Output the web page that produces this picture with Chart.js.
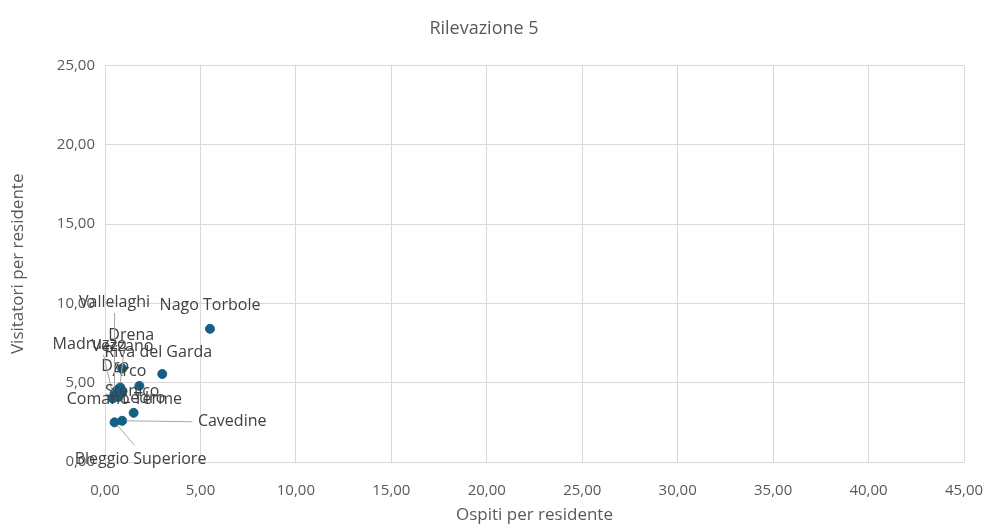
<!DOCTYPE html>
<html lang="it">
<head>
<meta charset="UTF-8">
<title>Rilevazione 5</title>
<script src="https://cdn.jsdelivr.net/npm/chart.js"></script>
<style>
  body { margin: 0; background: #fff; }
  .wrap { width: 989px; height: 529px; }
</style>
</head>
<body>
<div class="wrap"><canvas id="grafico"></canvas></div>
<script>
    // dati
    var comuni = ['Nago Torbole', 'Riva del Garda', 'Arco', 'Dro', 'Drena', 'Vallelaghi', 'Madruzzo',
        'Vezzano', 'Stenico', 'Comano Terme', 'Ledro', 'Cavedine', 'Bleggio Superiore'];
    var ospiti = [5.5, 3.0, 1.8, 0.9, 0.8, 0.5, 0.4, 0.6, 0.9, 0.7, 1.5, 0.9, 0.5];
    var visitatori = [8.4, 5.55, 4.8, 5.9, 4.7, 4.3, 4.0, 4.5, 4.4, 4.1, 3.1, 2.6, 2.5];
    var xTicks = [0, 5, 10, 15, 20, 25, 30, 35, 40, 45];
    var yTicks = [0, 5, 10, 15, 20, 25];

    // posizione etichette (px rispetto al punto) + linea guida
    var etichette = {
        'Nago Torbole': { dx: 0, dy: -23 },
        'Riva del Garda': { dx: -4, dy: -22 },
        'Arco': { dx: -10, dy: -14 },
        'Dro': { dx: -7, dy: -2 },
        'Drena': { dx: 11, dy: -52, line: true },
        'Vallelaghi': { dx: 0, dy: -91, line: true },
        'Madruzzo': { dx: -23, dy: -54, line: true },
        'Vezzano': { dx: 6, dy: -44 },
        'Stenico': { dx: 10, dy: -1 },
        'Comano Terme': { dx: 6, dy: 2 },
        'Ledro': { dx: 10, dy: -14 },
        'Cavedine': { dx: 110, dy: 1, line: true },
        'Bleggio Superiore': { dx: 26, dy: 37, line: true }
    };

    function formatta(v) {
        return v.toFixed(2).replace('.', ',');
    }

    var punti = [];
    for (var c = 0; c < comuni.length; c++) {
        punti.push({ x: ospiti[c], y: visitatori[c] });
    }

    var pluginEtichette = {
        id: 'etichette',
        afterDatasetsDraw: function (chart) {
            var ctx = chart.ctx;
            var meta = chart.getDatasetMeta(0);
            ctx.save();
            ctx.font = '16px "Open Sans", sans-serif';
            ctx.textAlign = 'center';
            ctx.textBaseline = 'middle';
            for (var i = 0; i < meta.data.length; i++) {
                var p = meta.data[i];
                var o = etichette[comuni[i]];
                var lx = p.x + o.dx;
                var ly = p.y + o.dy;
                if (o.line) {
                    ctx.strokeStyle = '#a6a6a6';
                    ctx.lineWidth = 1;
                    ctx.beginPath();
                    if (o.dx > 60) {
                        ctx.moveTo(p.x + 4, p.y);
                        ctx.lineTo(lx - 40, ly);
                    } else if (o.dy > 0) {
                        ctx.moveTo(p.x + 3, p.y + 3);
                        ctx.lineTo(lx - 6, ly - 14);
                    } else {
                        ctx.moveTo(p.x, p.y - 5);
                        ctx.lineTo(lx - o.dx * 0.6, ly + 10);
                    }
                    ctx.stroke();
                }
                ctx.fillStyle = '#404040';
                ctx.fillText(comuni[i], lx, ly);
            }
            ctx.restore();
        }
    };

    new Chart(document.getElementById('grafico'), {
        type: 'scatter',
        data: {
            datasets: [{
                label: 'Rilevazione 5',
                data: punti,
                backgroundColor: '#156082',
                borderColor: '#156082',
                pointRadius: 4.5,
                pointHoverRadius: 4.5
            }]
        },
        options: {
            responsive: true,
            maintainAspectRatio: false,
            animation: false,
            layout: { padding: { left: 4, right: 25, top: 8, bottom: 0 } },
            scales: {
                x: {
                    min: 0,
                    max: 45,
                    afterBuildTicks: function (s) { s.ticks = xTicks.map(function (v) { return { value: v }; }); },
                    ticks: {
                        color: '#595959',
                        font: { size: 15, family: '"Open Sans", sans-serif' },
                        padding: 20,
                        maxRotation: 0,
                        callback: function (v) { return formatta(v); }
                    },
                    grid: { color: '#d9d9d9', drawTicks: false },
                    border: { color: '#d9d9d9' },
                    title: {
                        display: true,
                        text: 'Ospiti per residente',
                        color: '#595959',
                        font: { size: 17, family: '"Open Sans", sans-serif' },
                        padding: { top: 4 }
                    },
                    afterFit: function (s) { s.height = 67; s.paddingRight = 0; s.paddingLeft = 0; }
                },
                y: {
                    min: 0,
                    max: 25,
                    afterBuildTicks: function (s) { s.ticks = yTicks.map(function (v) { return { value: v }; }); },
                    ticks: {
                        color: '#595959',
                        font: { size: 15, family: '"Open Sans", sans-serif' },
                        padding: 10,
                        callback: function (v) { return formatta(v); }
                    },
                    grid: { color: '#d9d9d9', drawTicks: false },
                    border: { color: '#d9d9d9' },
                    title: {
                        display: true,
                        text: 'Visitatori per residente',
                        color: '#595959',
                        font: { size: 17, family: '"Open Sans", sans-serif' }
                    },
                    afterFit: function (s) { s.width = 101; }
                }
            },
            plugins: {
                legend: { display: false },
                tooltip: { enabled: false },
                title: {
                    display: true,
                    text: 'Rilevazione 5',
                    color: '#595959',
                    font: { size: 18, weight: 'normal', family: '"Open Sans", sans-serif' },
                    padding: { top: 10, bottom: 26 }
                }
            }
        },
        plugins: [pluginEtichette]
    });
</script>
</body>
</html>
